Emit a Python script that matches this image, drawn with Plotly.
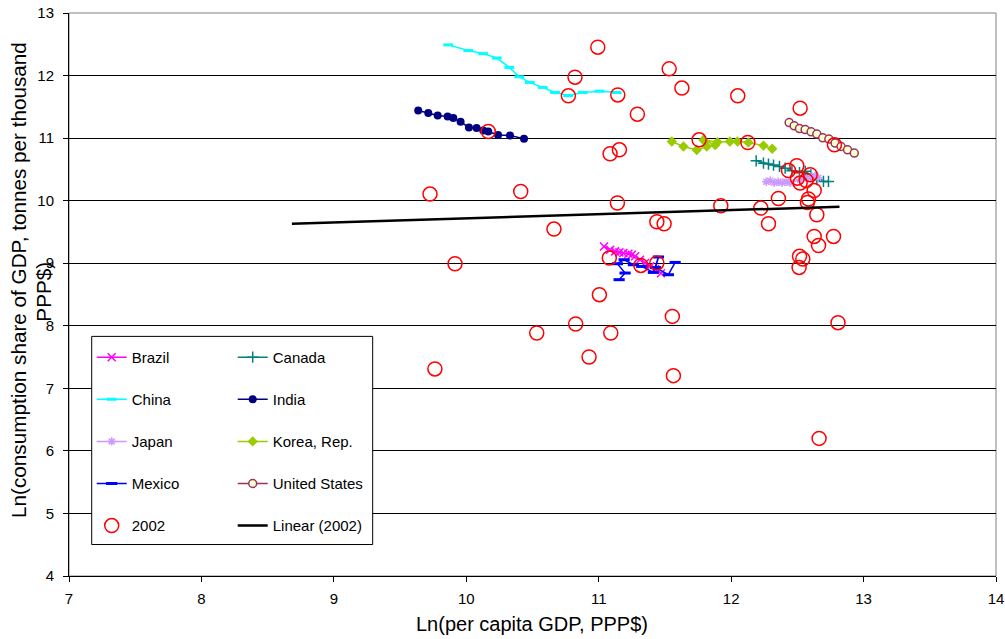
import plotly.graph_objects as go

# Country paths: Ln(per capita GDP) vs Ln(consumption share of GDP)
brazil_x = [11.04, 11.086, 11.124, 11.156, 11.186, 11.224, 11.25, 11.275, 11.312, 11.35, 11.388, 11.426, 11.47]
brazil_y = [9.268, 9.216, 9.189, 9.173, 9.163, 9.152, 9.136, 9.11, 9.056, 9.003, 8.95, 8.907, 8.84]

canada_x = [12.189, 12.244, 12.282, 12.32, 12.365, 12.408, 12.459, 12.516, 12.56, 12.602, 12.647, 12.697, 12.735]
canada_y = [10.637, 10.60, 10.585, 10.569, 10.547, 10.52, 10.48, 10.45, 10.47, 10.414, 10.334, 10.307, 10.307]

china_x = [9.864, 10.015, 10.128, 10.23, 10.325, 10.40, 10.48, 10.577, 10.67, 10.77, 10.88, 11.005, 11.136]
china_y = [12.49, 12.40, 12.35, 12.28, 12.13, 11.98, 11.89, 11.81, 11.73, 11.68, 11.73, 11.75, 11.73]

india_x = [9.637, 9.713, 9.784, 9.859, 9.902, 9.957, 10.02, 10.078, 10.128, 10.166, 10.24, 10.33, 10.436]
india_y = [11.44, 11.40, 11.36, 11.345, 11.32, 11.26, 11.17, 11.16, 11.12, 11.105, 11.05, 11.04, 10.99]

japan_x = [12.265, 12.295, 12.325, 12.355, 12.385, 12.415, 12.445, 12.52, 12.567, 12.604, 12.635, 12.658]
japan_y = [10.302, 10.318, 10.286, 10.302, 10.286, 10.302, 10.286, 10.334, 10.366, 10.382, 10.398, 10.366]

korea_x = [11.552, 11.64, 11.74, 11.816, 11.88, 11.79, 11.897, 11.99, 12.048, 12.13, 12.244, 12.31]
korea_y = [10.946, 10.866, 10.81, 10.866, 10.89, 10.97, 10.936, 10.946, 10.946, 10.93, 10.88, 10.83]

mexico_x = [11.154, 11.199, 11.141, 11.192, 11.262, 11.325, 11.413, 11.451, 11.43, 11.526, 11.577]
mexico_y = [8.737, 8.843, 8.992, 9.056, 8.976, 8.949, 8.853, 9.10, 8.93, 8.816, 9.013]

us_x = [12.438, 12.476, 12.516, 12.559, 12.604, 12.647, 12.692, 12.738, 12.785, 12.83, 12.879, 12.93]
us_y = [11.249, 11.196, 11.153, 11.137, 11.10, 11.064, 11.005, 10.984, 10.92, 10.866, 10.813, 10.76]

# Cross-section of countries in 2002
y2002_x = [10.993, 11.532, 10.821, 10.771, 11.144, 11.628, 12.05, 11.292, 12.521, 10.166,
           11.086, 11.156, 11.758, 12.126, 12.78, 9.726, 10.411, 11.141, 10.662, 11.439,
           11.494, 9.915, 11.08, 11.318, 11.439, 11.005, 11.556, 10.532, 10.826, 11.091,
           10.927, 11.564, 9.763, 12.807, 12.664, 12.496, 12.433, 12.597, 12.50, 12.521,
           12.567, 12.627, 12.584, 12.576, 12.357, 12.224, 12.647, 12.282, 12.773, 12.627,
           12.66, 12.516, 12.541, 12.513, 11.922]
y2002_y = [12.454, 12.107, 11.974, 11.676, 11.69, 11.80, 11.676, 11.383, 11.479, 11.105,
           10.75, 10.813, 10.973, 10.93, 10.893, 10.105, 10.147, 9.962, 9.546, 9.663,
           9.631, 8.992, 9.083, 8.965, 9.003, 8.497, 8.15, 7.885, 8.029, 7.885,
           7.501, 7.203, 7.31, 8.05, 6.20, 10.558, 10.482, 10.414, 10.36, 10.281,
           10.323, 10.163, 10.026, 9.972, 10.035, 9.882, 9.775, 9.631, 9.428, 9.428,
           9.284, 9.11, 9.067, 8.933, 9.919]

# Linear trend of the 2002 cross-section (endpoints)
trend_x = [8.683, 12.818]
trend_y = [9.631, 9.903]

x_ticks = [7, 8, 9, 10, 11, 12, 13, 14]
y_ticks = [4, 5, 6, 7, 8, 9, 10, 11, 12, 13]

FONT = "Liberation Sans, Arial, sans-serif"

fig = go.Figure()


def add_path(name, xs, ys, color, symbol, size, legend, mline=None, mfill=None, mwidth=1.5):
    marker = dict(symbol=symbol, size=size, color=mfill or color,
                  line=dict(color=mline or color, width=mwidth))
    fig.add_trace(go.Scatter(
        x=xs, y=ys, name=name, mode="lines+markers",
        line=dict(color=color, width=1.5), marker=marker,
        legend=legend, legendgroup=name))


# left legend column: Brazil, China, Japan, Mexico, 2002
# right legend column: Canada, India, Korea, United States, Linear (2002)
add_path("Brazil", brazil_x, brazil_y, "#FF00FF", "x-thin", 8, "legend")
add_path("Canada", canada_x, canada_y, "#008080", "cross-thin", 8, "legend2")
add_path("China", china_x, china_y, "#00FFFF", "line-ew", 7, "legend", mwidth=3)
add_path("India", india_x, india_y, "#000080", "circle", 8, "legend2", mwidth=0)
add_path("Japan", japan_x, japan_y, "#CC99FF", "asterisk", 7, "legend")
add_path("Korea, Rep.", korea_x, korea_y, "#99CC00", "diamond", 8, "legend2", mwidth=0)
add_path("Mexico", mexico_x, mexico_y, "#0000FF", "line-ew", 8, "legend", mwidth=3)
add_path("United States", us_x, us_y, "#993366", "circle", 8, "legend2",
         mfill="#FFFFCC", mwidth=1.5)

fig.add_trace(go.Scatter(
    x=y2002_x, y=y2002_y, name="2002", mode="markers",
    marker=dict(symbol="circle-open", size=14, color="#FF0000",
                line=dict(color="#FF0000", width=1.5)),
    legend="legend", legendgroup="2002"))

fig.add_trace(go.Scatter(
    x=trend_x, y=trend_y, name="Linear (2002)", mode="lines",
    line=dict(color="#000000", width=2.5),
    legend="legend2", legendgroup="Linear (2002)"))

legend_common = dict(
    bgcolor="rgba(0,0,0,0)", borderwidth=0, font=dict(family=FONT, size=15, color="#000"),
    orientation="v", tracegroupgap=19.6, yanchor="top", xanchor="left", y=0.4175)

fig.update_layout(
    width=1005, height=639,
    margin=dict(l=69, r=9, t=13, b=63, autoexpand=False),
    paper_bgcolor="white", plot_bgcolor="white",
    font=dict(family=FONT, size=15, color="#000"),
    showlegend=True,
    legend=dict(**legend_common, x=0.0245),
    legend2=dict(**legend_common, x=0.1766),
    xaxis=dict(range=[7, 14], tickvals=x_ticks, showgrid=False, zeroline=False,
               showline=True, linecolor="#000", linewidth=1, automargin=False,
               ticks="outside", ticklen=5, tickcolor="#000",
               ticklabelstandoff=4, tickfont=dict(size=15)),
    yaxis=dict(range=[4, 13], tickvals=y_ticks, showgrid=True, gridcolor="#000",
               gridwidth=1, zeroline=False, showline=True, linecolor="#000",
               linewidth=1, automargin=False, ticks="outside", ticklen=5,
               tickcolor="#000", ticklabelstandoff=6, tickfont=dict(size=15)),
    shapes=[
        # plot-area frame
        dict(type="rect", xref="paper", yref="paper", x0=0, x1=1, y0=0, y1=1,
             line=dict(color="#808080", width=1), layer="below"),
        # legend box
        dict(type="rect", xref="paper", yref="paper", x0=0.0245, x1=0.3276,
             y0=0.0559, y1=0.4256, fillcolor="white",
             line=dict(color="#000", width=1), layer="above"),
    ],
    annotations=[
        dict(text="Ln(per capita GDP, PPP$)", xref="paper", yref="paper",
             x=0.4995, y=-0.0861, xanchor="center", yanchor="middle",
             showarrow=False, font=dict(size=20)),
        dict(text="Ln(consumption share of GDP, tonnes per thousand", xref="paper",
             yref="paper", x=-0.0539, y=0.526, xanchor="center", yanchor="middle",
             textangle=-90, showarrow=False, font=dict(size=20.7)),
        dict(text="PPP$)", xref="paper", yref="paper", x=-0.027, y=0.505,
             xanchor="center", yanchor="middle", textangle=-90, showarrow=False,
             font=dict(size=20.7)),
    ],
)

fig.write_html("out.html", config={"displayModeBar": False})
